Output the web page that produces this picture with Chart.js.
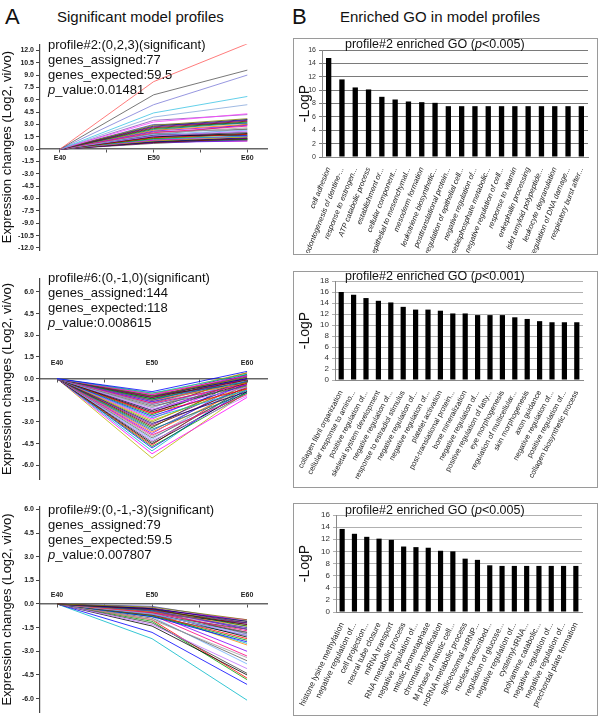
<!DOCTYPE html>
<html>
<head>
<meta charset="utf-8">
<script src="https://cdn.jsdelivr.net/npm/chart.js@4.4.0/dist/chart.umd.min.js"></script>
<style>
body { margin: 0; background: #fff; font-family: Arial, "Liberation Sans", sans-serif; color: #111; }
#page { position: relative; width: 600px; height: 719px; overflow: hidden; }
.abs { position: absolute; white-space: nowrap; }
canvas { position: absolute; }
.box { position: absolute; border: 1px solid #9a9a9a; }
.letter { font-size: 22px; }
.head { font-size: 15px; }
.note { font-size: 13px; line-height: 15px; }
.gotitle { font-size: 12.5px; }
</style>
</head>
<body>
<div id="page">
  <div class="abs letter" style="left:5px;top:4px">A</div>
  <div class="abs head" style="left:57px;top:8px">Significant model profiles</div>
  <div class="abs letter" style="left:292px;top:4px">B</div>
  <div class="abs head" style="left:340px;top:8px">Enriched GO in model profiles</div>

  <div class="box" style="left:293px;top:38px;width:303px;height:215px"></div>
  <div class="box" style="left:293px;top:271px;width:303px;height:215px"></div>
  <div class="box" style="left:293px;top:503px;width:303px;height:211px"></div>

  <canvas id="prof1" width="285" height="224" style="left:0;top:38px"></canvas>
  <canvas id="prof2" width="285" height="214" style="left:0;top:272px"></canvas>
  <canvas id="prof3" width="285" height="219" style="left:0;top:500px"></canvas>
  <canvas id="go1" width="302" height="214" style="left:294px;top:39px"></canvas>
  <canvas id="go2" width="302" height="214" style="left:294px;top:272px"></canvas>
  <canvas id="go3" width="302" height="210" style="left:294px;top:504px"></canvas>

  <div class="abs note" style="left:48px;top:37px">profile#2:(0,2,3)(significant)<br>genes_assigned:77<br>genes_expected:59.5<br><i>p</i>_value:0.01481</div>
  <div class="abs note" style="left:48px;top:270px">profile#6:(0,-1,0)(significant)<br>genes_assigned:144<br>genes_expected:118<br><i>p</i>_value:0.008615</div>
  <div class="abs note" style="left:48px;top:502px">profile#9:(0,-1,-3)(significant)<br>genes_assigned:79<br>genes_expected:59.5<br><i>p</i>_value:0.007807</div>

  <div class="abs gotitle" style="left:345px;top:37px">profile#2 enriched GO (<i>p</i>&lt;0.005)</div>
  <div class="abs gotitle" style="left:345px;top:269px">profile#2 enriched GO (<i>p</i>&lt;0.001)</div>
  <div class="abs gotitle" style="left:345px;top:503px">profile#2 enriched GO (<i>p</i>&lt;0.005)</div>
</div>
<script>
const timepoints = ['E40', 'E50', 'E60'];

// expression (log2) at E40, E50, E60 for each gene
const profile2Lines = [
  [0, 8.2, 12.8], [0, 6.6, 9.6], [0, 5.4, 9.0], [0, 4.4, 6.4], [0, 3.9, 5.4], [0, 3.3, 4.3], [0, 3.5, 4.2],
  [0, 2.9, 3.7], [0, 2.8, 3.6], [0, 2.7, 3.5], [0, 2.6, 3.4], [0, 2.5, 3.3], [0, 2.4, 3.2], [0, 3.0, 3.1],
  [0, 2.3, 3.0], [0, 2.2, 2.9], [0, 2.0, 2.8], [0, 1.9, 2.6], [0, 2.1, 2.4], [0, 1.8, 2.3], [0, 1.6, 2.2],
  [0, 1.7, 2.0], [0, 1.5, 1.9], [0, 1.4, 1.8], [0, 1.3, 1.8], [0, 1.6, 1.7], [0, 1.2, 1.6], [0, 1.1, 1.6],
  [0, 1.0, 1.5], [0, 1.3, 1.5], [0, 0.9, 1.4], [0, 1.1, 1.3], [0, 0.8, 1.3], [0, 1.0, 1.2], [0, 0.9, 1.2],
  [0, 0.8, 1.1], [0, 1.2, 1.1], [0, 0.8, 1.0], [0, 0.9, 1.0], [0, 1.4, 2.5], [0, 1.7, 3.0], [0, 2.2, 3.6],
  [0, 1.5, 2.1], [0, 0.7, 1.2], [0, 1.9, 1.6]
];
const profile6Lines = [
  [0, -0.9, 0.5], [0, -1.0, 0.3], [0, -1.1, 0.2], [0, -1.1, 0.4], [0, -1.2, 0.1], [0, -1.2, 0.0],
  [0, -1.3, 0.2], [0, -1.3, -0.1], [0, -1.4, 0.3], [0, -1.4, -0.2], [0, -1.5, 0.1], [0, -1.5, -0.3],
  [0, -1.6, 0.0], [0, -1.7, -0.4], [0, -1.8, 0.2], [0, -1.9, -0.5], [0, -2.0, -0.1], [0, -2.1, -0.6],
  [0, -2.2, 0.3], [0, -2.3, -0.3], [0, -2.4, -0.7], [0, -2.5, 0.0], [0, -2.6, -0.4], [0, -2.7, -0.8],
  [0, -2.8, 0.1], [0, -2.9, -0.5], [0, -3.0, -0.2], [0, -3.1, -0.9], [0, -3.2, -0.3], [0, -3.3, -0.6],
  [0, -3.4, 0.2], [0, -3.5, -1.0], [0, -3.6, -0.4], [0, -3.7, -0.7], [0, -3.8, -0.1], [0, -3.9, -1.1],
  [0, -4.0, -0.5], [0, -4.1, -0.8], [0, -4.2, -0.3], [0, -4.3, -1.2], [0, -4.4, -0.6], [0, -4.5, -0.9],
  [0, -4.6, -0.2], [0, -4.7, -1.0], [0, -4.8, -0.7], [0, -5.0, -0.4], [0, -5.2, -1.3], [0, -5.5, -0.9],
  [0, -1.0, 0.0], [0, -1.2, -0.3], [0, -1.1, -0.1], [0, -1.3, 0.4], [0, -1.5, 0.2], [0, -1.6, -0.2],
  [0, -1.8, -0.3], [0, -2.0, 0.1], [0, -2.2, -0.2], [0, -2.4, 0.1], [0, -1.4, 0.0], [0, -1.7, 0.1]
];
const profile9Lines = [
  [0, -0.2, -1.0], [0, -0.3, -1.1], [0, -0.25, -1.2], [0, -0.35, -1.3], [0, -0.3, -1.4], [0, -0.4, -1.2],
  [0, -0.45, -1.5], [0, -0.5, -1.4], [0, -0.4, -1.6], [0, -0.55, -1.7], [0, -0.6, -1.5], [0, -0.5, -1.8],
  [0, -0.65, -1.9], [0, -0.6, -2.0], [0, -0.7, -1.8], [0, -0.55, -2.1], [0, -0.7, -2.2], [0, -0.75, -2.3],
  [0, -0.8, -2.4], [0, -0.65, -2.5], [0, -0.35, -1.0], [0, -0.45, -1.1], [0, -0.3, -1.6], [0, -0.5, -1.3],
  [0, -0.6, -1.2], [0, -0.4, -1.9], [0, -0.7, -1.6], [0, -0.8, -2.0], [0, -0.15, -1.1], [0, -0.55, -2.6],
  [0, -0.6, -3.0], [0, -0.7, -3.3], [0, -1.0, -3.4], [0, -0.9, -3.6], [0, -0.8, -3.8], [0, -1.3, -4.1],
  [0, -1.2, -4.4], [0, -1.4, -4.5], [0, -1.0, -4.7], [0, -1.1, -4.8], [0, -1.8, -5.1], [0, -2.2, -6.1]
];

const go1Labels = ['cell adhesion', 'odontogenesis of dentine-...', 'response to estrogen...', 'ATP catabolic process',
  'establishment or...', 'cellular component...', 'epithelial to mesenchymal...', 'mesoderm formation',
  'leukotriene biosynthetic...', 'posttranslational protein...', 'regulation of epithelial cell...',
  'negative regulation of...', 'fructosebisphosphate metabolic...', 'negative regulation of cell...',
  'response to vitamin', 'enkephalin processing', 'islet amyloid polypeptide...', 'leukocyte degranulation',
  'regulation of DNA damage...', 'respiratory burst after...'];
const go1Values = [14.8, 11.6, 10.4, 10.1, 9.0, 8.6, 8.3, 8.2, 8.1, 7.6, 7.6, 7.6, 7.6, 7.6, 7.6, 7.6, 7.6, 7.6, 7.6, 7.6];

const go2Labels = ['collagen fibril organization', 'cellular response to amino...', 'positive regulation of...',
  'skeletal system development', 'negative regulation of...', 'response to estradiol stimulus',
  'negative regulation of...', 'negative regulation of...', 'platelet activation', 'post-translational protein...',
  'bone mineralization', 'negative regulation of...', 'positive regulation of fatty...', 'eye morphogenesis',
  'regulation of multicellular...', 'skin morphogenesis', 'axon guidance', 'negative regulation of...',
  'positive regulation of...', 'collagen biosynthetic process'];
const go2Values = [16.0, 15.5, 14.9, 14.4, 14.1, 13.3, 12.8, 12.8, 12.6, 12.1, 12.1, 11.8, 11.8, 11.8, 11.4, 11.1, 10.7, 10.5, 10.5, 10.5];

const go3Labels = ['histone lysine methylation', 'negative regulation of...', 'cell projection...',
  'neural tube closure', 'mRNA transport', 'RNA metabolic process', 'negative regulation of...',
  'mitotic prometaphase', 'chromatin modification', 'M phase of mitotic cell...', 'ncRNA metabolic process',
  'spliceosomal snRNP...', 'nuclear-transcribed...', 'regulation of glucose...', 'negative regulation of...',
  'cysteinyl-tRNA...', 'polyamine catabolic...', 'negative regulation of...', 'negative regulation of...',
  'prechordal plate formation'];
const go3Values = [13.7, 12.9, 12.4, 12.1, 11.9, 10.8, 10.7, 10.6, 10.1, 10.0, 8.8, 8.6, 7.7, 7.6, 7.6, 7.6, 7.6, 7.6, 7.6, 7.6];

const lineColors = ['#000000', '#ff0000', '#00a000', '#0000ff', '#00b8c8', '#ff00ff', '#b8b800', '#808000',
  '#000080', '#800080', '#800000', '#008000', '#008080', '#4040c0', '#ff8000', '#8000ff', '#ff0080',
  '#a0a0a0', '#606060', '#70b0ff', '#c070ff', '#404040'];
const topColors = ['#ff5a5a', '#555555', '#7c7cd8', '#3cc4e4', '#88a8dc', '#ff44ff', '#9050c0'];

function profileChart(id, lines, cfg) {
  const datasets = lines.map((vals, i) => ({
    data: vals.map((y, j) => ({ x: j, y: y })),
    borderColor: (cfg.lead && i < cfg.lead.length) ? cfg.lead[i] : lineColors[(i + cfg.shift) % lineColors.length],
    borderWidth: 0.8,
    pointRadius: 0,
    tension: 0,
    fill: false
  }));
  new Chart(document.getElementById(id), {
    type: 'line',
    data: { datasets: datasets },
    options: {
      responsive: false,
      animation: false,
      layout: { padding: { top: cfg.padTop, bottom: cfg.padBottom, left: 0, right: 18 } },
      plugins: { legend: { display: false }, tooltip: { enabled: false } },
      scales: {
        x: {
          type: 'linear',
          position: { y: 0 },
          min: cfg.xMin,
          max: 2.21,
          afterBuildTicks: s => { s.ticks = [0, 0.5, 1, 1.5, 2].map(v => ({ value: v })); },
          ticks: {
            callback: v => Number.isInteger(v) ? timepoints[v] : '',
            font: { size: 7, weight: 'bold' },
            color: '#222',
            padding: cfg.labelPad,
            maxRotation: 0,
            autoSkip: false
          },
          grid: { drawOnChartArea: false, drawTicks: true, tickLength: 3, color: '#555' },
          border: { color: '#666', width: 1.5 }
        },
        y: {
          min: cfg.yMin,
          max: cfg.yMax,
          afterFit: s => { s.width = 40; },
          afterBuildTicks: s => {
            const t = [];
            for (let v = Math.ceil(cfg.yMin / 1.5) * 1.5; v <= cfg.yMax; v += 1.5) t.push({ value: v });
            s.ticks = t;
          },
          ticks: { callback: v => v.toFixed(1), font: { size: 7, weight: 'bold' }, color: '#222', padding: 2, autoSkip: false },
          grid: { drawOnChartArea: false, tickLength: 4, color: '#444' },
          border: { color: '#444', width: 1.2 },
          title: { display: true, text: 'Expression changes (Log2, vi/vo)', font: { size: 13 }, color: '#111', padding: 0 }
        }
      }
    }
  });
}

function goChart(id, labels, values, cfg) {
  new Chart(document.getElementById(id), {
    type: 'bar',
    data: {
      labels: labels,
      datasets: [{ data: values, backgroundColor: '#000', barPercentage: cfg.bar, categoryPercentage: 1 }]
    },
    options: {
      responsive: false,
      animation: false,
      layout: { padding: { top: cfg.padTop, right: cfg.padRight, left: 0, bottom: 0 } },
      plugins: { legend: { display: false }, tooltip: { enabled: false } },
      scales: {
        x: {
          afterFit: s => { s.height = cfg.xHeight; },
          grid: { display: false },
          border: { color: '#888' },
          ticks: {
            autoSkip: false,
            minRotation: cfg.rot,
            maxRotation: cfg.rot,
            font: { size: cfg.labelSize, style: cfg.italic ? 'italic' : 'normal' },
            color: '#222',
            padding: 1
          }
        },
        y: {
          min: 0,
          max: cfg.yMax,
          afterFit: s => { s.width = cfg.yWidth; },
          ticks: { stepSize: 2, autoSkip: false, font: { size: cfg.tickSize }, color: '#333', padding: 3 },
          grid: { color: cfg.gridColor, tickLength: 3 },
          border: { color: '#888' },
          title: { display: true, text: '-LogP', font: { size: 14 }, color: '#111', padding: 3 }
        }
      }
    }
  });
}

profileChart('prof1', profile2Lines, { yMin: -12.25, yMax: 12.75, xMin: -0.213, padTop: 6, padBottom: 12, labelPad: 2, lead: topColors, shift: 0 });
profileChart('prof2', profile6Lines, { yMin: -7.0, yMax: 6.95, xMin: -0.179, padTop: 5, padBottom: 4, labelPad: -23, shift: 3 });
profileChart('prof3', profile9Lines, { yMin: -6.9, yMax: 6.2, xMin: -0.179, padTop: 5, padBottom: 6, labelPad: -16, shift: 7 });

goChart('go1', go1Labels, go1Values, { yMax: 16, padTop: 11, padRight: 8, xHeight: 96, yWidth: 28, bar: 0.4, rot: 68, labelSize: 7.5, italic: true, tickSize: 7, gridColor: '#7a7a7a' });
goChart('go2', go2Labels, go2Values, { yMax: 18, padTop: 9, padRight: 13, xHeight: 106, yWidth: 41, bar: 0.42, rot: 62, labelSize: 7.5, italic: false, tickSize: 8, gridColor: '#b0b0b0' });
goChart('go3', go3Labels, go3Values, { yMax: 16, padTop: 11, padRight: 14, xHeight: 102, yWidth: 42, bar: 0.42, rot: 64, labelSize: 8, italic: false, tickSize: 8, gridColor: '#b0b0b0' });
</script>
</body>
</html>
